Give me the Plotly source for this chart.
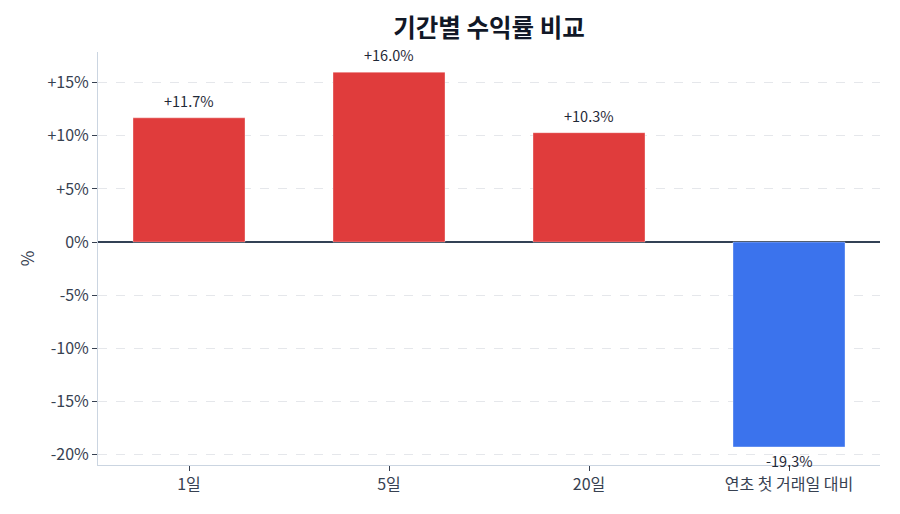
import plotly.graph_objects as go

categories = ["1일", "5일", "20일", "연초 첫 거래일 대비"]
returns = [11.7, 16.0, 10.3, -19.3]
tick_vals = [-20, -15, -10, -5, 0, 5, 10, 15]
tick_text = ["-20%", "-15%", "-10%", "-5%", "0%", "+5%", "+10%", "+15%"]

colors = ["#e03c3c" if v >= 0 else "#3b73ed" for v in returns]
labels = [f"{v:+.1f}%" for v in returns]

FONT = "Noto Sans CJK KR"

fig = go.Figure(go.Bar(
    x=list(range(len(categories))),
    y=returns,
    width=0.56,
    marker=dict(color=colors, line=dict(color="rgba(255,255,255,0.35)", width=1)),
    hoverinfo="skip",
))

for i, (v, t) in enumerate(zip(returns, labels)):
    fig.add_annotation(
        x=i, y=v, text=t, showarrow=False,
        yanchor="bottom" if v >= 0 else "top",
        yshift=5 if v >= 0 else -1,
        font=dict(size=14.5, color="#1f2937", family=FONT),
    )

fig.update_layout(
    width=900, height=514,
    margin=dict(l=98, r=20, t=52, b=49),
    paper_bgcolor="white",
    plot_bgcolor="white",
    font=dict(family=FONT, color="#374151", size=16),
    title=dict(text="<b>기간별 수익률 비교</b>", x=0.5, xref="paper", xanchor="center",
               y=0.945, yref="container", yanchor="middle",
               font=dict(size=24.5, color="#111827", family=FONT)),
    showlegend=False,
)

fig.update_xaxes(
    tickmode="array",
    tickvals=list(range(len(categories))),
    ticktext=categories,
    range=[-0.455, 3.455],
    showline=True, linecolor="#cbd5e1", linewidth=1,
    ticks="outside", ticklen=5, tickcolor="#374151",
    tickfont=dict(size=16, color="#374151"),
    showgrid=False, zeroline=False,
)

fig.update_yaxes(
    range=[-21.0, 17.9],
    tickmode="array",
    tickvals=tick_vals,
    ticktext=tick_text,
    showline=True, linecolor="#cbd5e1", linewidth=1,
    ticks="outside", ticklen=5, tickcolor="#374151",
    tickfont=dict(size=16, color="#374151"),
    showgrid=True, gridcolor="#e5e7eb", griddash="dash", gridwidth=1,
    zeroline=True, zerolinecolor="#334155", zerolinewidth=1.5,
    title=dict(text="%", font=dict(size=17, color="#374151"), standoff=8),
)

fig.write_html("out.html")
